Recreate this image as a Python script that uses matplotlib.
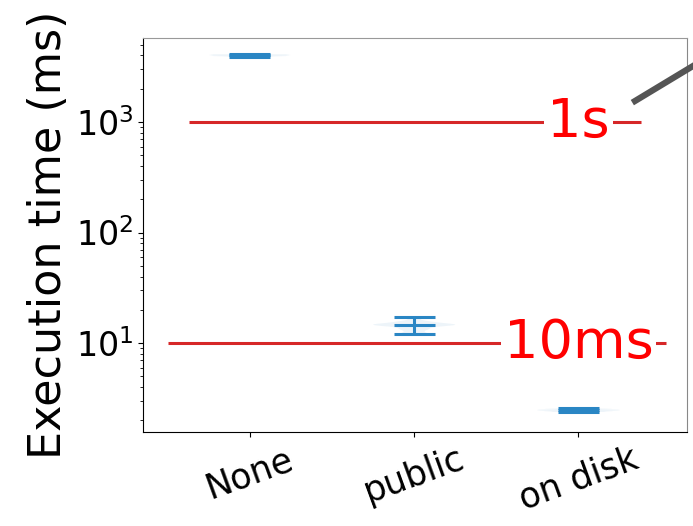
import matplotlib
matplotlib.use("Agg")
import matplotlib.pyplot as plt
from matplotlib.lines import Line2D

categories = ["None", "public", "on disk"]
samples_none = [3900, 3980, 4040, 4100]
samples_public = [12.1, 13.4, 14.6, 14.6, 14.7, 15.6, 17.2]
samples_disk = [2.38, 2.45, 2.50, 2.58]
ref_values = [1000, 10]
ref_labels = ["1s", "10ms"]
ref_spans = [(0.63, 3.38), (0.50, 3.53)]

fig = plt.figure(figsize=(6.93, 5.26), dpi=100)
ax = fig.add_axes([0.2063, 0.1787, 0.785, 0.749])

positions = [1, 2, 3]
parts = ax.violinplot([samples_none, samples_public, samples_disk],
                      positions=positions, showmeans=True, bw_method=0.3)
for b in parts['bodies']:
    b.set_facecolor('#1f77b4')
    b.set_edgecolor('none')
    b.set_alpha(0.08)
for k in ('cmins', 'cmaxes', 'cbars', 'cmeans'):
    parts[k].set_color('#2a86c4')
    parts[k].set_linewidth(2.2)

ax.set_yscale('log')
ax.set_ylim(1.567, 5754)
ax.set_xlim(0.35, 3.66)

for v, lab, (x0, x1) in zip(ref_values, ref_labels, ref_spans):
    ax.hlines(v, x0, x1, color='#d62728', lw=2.2, zorder=3)
    ax.text(3.0, v, lab, color='red', fontsize=39, ha='center', va='center',
            zorder=4, bbox=dict(facecolor='white', edgecolor='none',
                                boxstyle='square,pad=0.05'))

ax.set_xticks(positions)
ax.set_xticklabels(categories, rotation=20, ha='center', fontsize=25)
ax.tick_params(axis='y', labelsize=24)
ax.set_ylabel("Execution time (ms)", fontsize=32, labelpad=4)
ax.spines['right'].set_color('#888888')
ax.spines['top'].set_color('#999999')

fig.add_artist(Line2D([635/693, 1.0], [1-101/526, 1-66/526],
                      transform=fig.transFigure, color='#555555', lw=4.5))

fig.savefig("out.png", dpi=100)
